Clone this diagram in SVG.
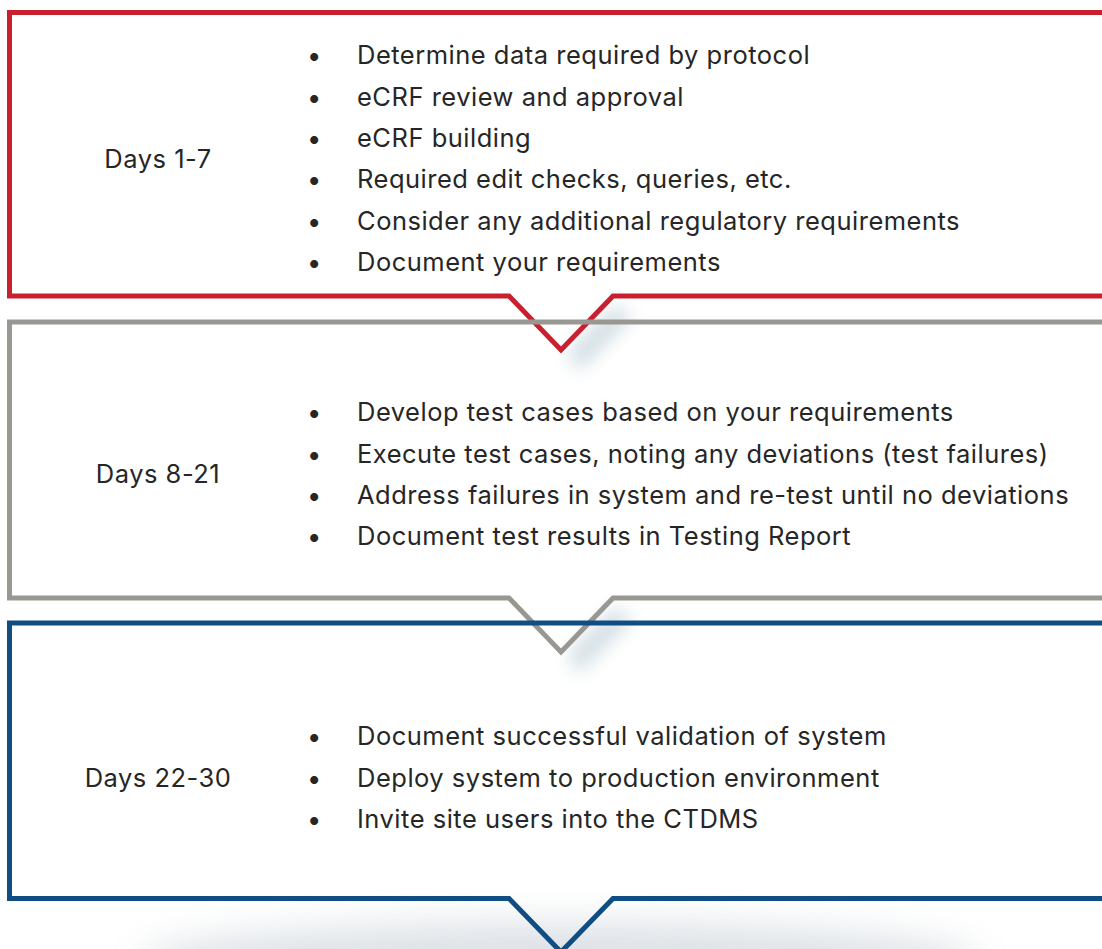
<svg xmlns="http://www.w3.org/2000/svg" width="1102" height="949" viewBox="0 0 1102 949">
  <style>
    .frame { fill: none; stroke-width: 5; stroke-linejoin: miter; }
    .red { stroke: #c8202f; }
    .grey { stroke: #999792; }
    .blue { stroke: #0f4d82; }
    text { font-family: Inter, "Liberation Sans", Arial, sans-serif; font-size: 25.5px; letter-spacing: 0.5px; fill: #262626; }
    .days { text-anchor: middle; }
  </style>
  <defs>
    <filter id="soft" x="-80%" y="-80%" width="260%" height="260%">
      <feGaussianBlur stdDeviation="9"/>
    </filter>
    <filter id="haze" x="-20%" y="-100%" width="140%" height="300%">
      <feGaussianBlur stdDeviation="18"/>
    </filter>
  </defs>

  <!-- soft shadows cast by the notches -->
  <g id="shadows">
    <path d="M568,352 L615,305 L632,318 L578,372 Z" fill="#5f8a9c" opacity="0.28" filter="url(#soft)"/>
    <path d="M568,654 L615,607 L632,620 L578,674 Z" fill="#5f8a9c" opacity="0.28" filter="url(#soft)"/>
    <ellipse cx="560" cy="962" rx="420" ry="40" fill="#7a8ea0" opacity="0.25" filter="url(#haze)"/>
  </g>

  <g id="connectors">
    <path class="frame red" d="M1110,12.5 H9.5 V296 H509 L561,350 L613,296 H1110"/>
    <path class="frame grey" d="M1110,322 H9.5 V598 H509 L561,652 L613,598 H1110"/>
    <path class="frame blue" d="M1110,623 H9.5 V898.5 H509 L561,952 L613,898.5 H1110"/>
  </g>

  <g id="stage1">
    <text class="days" x="158" y="168">Days 1-7</text>
    <text x="307" y="64">•</text><text x="357" y="64">Determine data required by protocol</text>
    <text x="307" y="106">•</text><text x="357" y="106">eCRF review and approval</text>
    <text x="307" y="147">•</text><text x="357" y="147">eCRF building</text>
    <text x="307" y="188">•</text><text x="357" y="188">Required edit checks, queries, etc.</text>
    <text x="307" y="230">•</text><text x="357" y="230">Consider any additional regulatory requirements</text>
    <text x="307" y="271">•</text><text x="357" y="271">Document your requirements</text>
  </g>

  <g id="stage2">
    <text class="days" x="158" y="483">Days 8-21</text>
    <text x="307" y="421">•</text><text x="357" y="421">Develop test cases based on your requirements</text>
    <text x="307" y="463">•</text><text x="357" y="463">Execute test cases, noting any deviations (test failures)</text>
    <text x="307" y="504">•</text><text x="357" y="504">Address failures in system and re-test until no deviations</text>
    <text x="307" y="545">•</text><text x="357" y="545">Document test results in Testing Report</text>
  </g>

  <g id="stage3">
    <text class="days" x="158" y="787">Days 22-30</text>
    <text x="307" y="745">•</text><text x="357" y="745">Document successful validation of system</text>
    <text x="307" y="787">•</text><text x="357" y="787">Deploy system to production environment</text>
    <text x="307" y="828">•</text><text x="357" y="828">Invite site users into the CTDMS</text>
  </g>
</svg>
